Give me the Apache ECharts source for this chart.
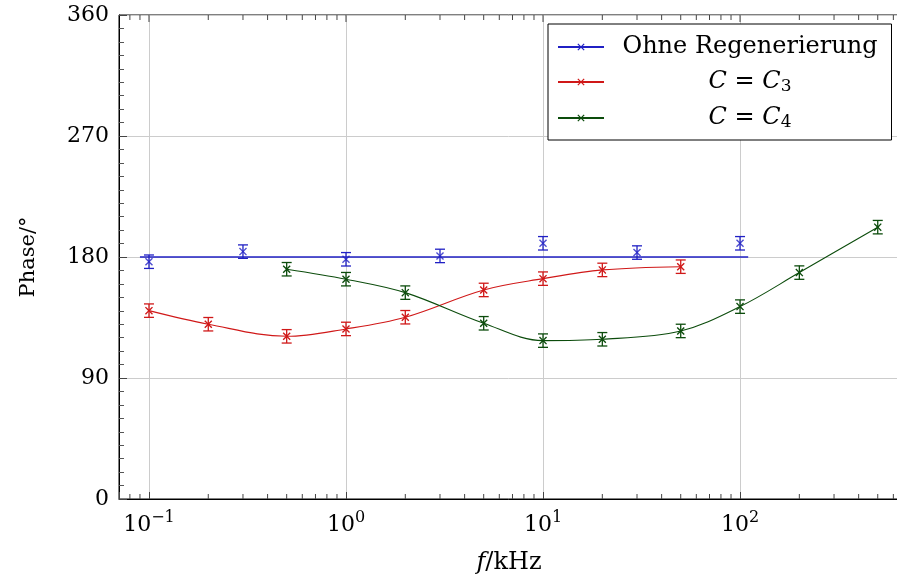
<!DOCTYPE html>
<html>
<head>
<meta charset="utf-8">
<script src="https://cdn.jsdelivr.net/npm/echarts@6/dist/echarts.min.js"></script>
<style>html,body{margin:0;padding:0;background:#fff}#c{width:897px;height:583px}</style>
</head>
<body>
<div id="c"></div>
<script>
// ---- data ----
const seriesNames = ['Ohne Regenerierung', 'C = C_3', 'C = C_4'];
const freqBlue = [0.1, 0.3, 1, 3, 10, 30, 100];
const phaseBlue = [176.5, 184, 178.3, 180.8, 190.2, 183.3, 190.2];
const errBlue = [5, 5, 5, 5, 5, 5, 5];
const fitBlueX = [0.09, 110];
const fitBlueY = [180, 180];
const freqC3 = [0.1, 0.2, 0.5, 1, 2, 5, 10, 20, 50];
const phaseC3 = [140.1, 130.0, 121.0, 126.5, 135.2, 155.5, 163.9, 170.4, 172.8];
const errC3 = [5, 5, 5, 5, 5, 5, 5, 5, 5];
const freqC4 = [0.5, 1, 2, 5, 10, 20, 50, 100, 200, 500];
const phaseC4 = [170.9, 163.5, 153.5, 130.7, 117.8, 118.8, 125.0, 143.1, 168.4, 202.2];
const errC4 = [5, 5, 5, 5, 5, 5, 5, 5, 5, 5];
const xMajorTicks = [0.1, 1, 10, 100];
const xMinorTicks = [0.08, 0.09, 0.2, 0.3, 0.4, 0.5, 0.6, 0.7, 0.8, 0.9, 2, 3, 4, 5, 6, 7, 8, 9,
  20, 30, 40, 50, 60, 70, 80, 90, 200, 300, 400, 500, 600];
const yTicks = [0, 90, 180, 270, 360];

// ---- styling ----
const FONT = 'DejaVu Serif';
const BLUE = '#2020c4', RED = '#d01818', GREEN = '#0c4c0c';
const XSYM = 'path://M0,1.2 L1.2,0 L5,3.8 L8.8,0 L10,1.2 L6.2,5 L10,8.8 L8.8,10 L5,6.2 L1.2,10 L0,8.8 L3.8,5 Z';

const zip = (a, b) => a.map((v, i) => [v, b[i]]);
const zip3 = (a, b, c) => a.map((v, i) => [v, b[i], c[i]]);

function errRender(color) {
  return function (params, api) {
    const x = api.value(0), y = api.value(1), e = api.value(2);
    const hi = api.coord([x, y + e]);
    const lo = api.coord([x, y - e]);
    const hw = 5;
    const st = { stroke: color, lineWidth: 1.3 };
    return {
      type: 'group', children: [
        { type: 'line', shape: { x1: hi[0], y1: hi[1], x2: lo[0], y2: lo[1] }, style: st },
        { type: 'line', shape: { x1: hi[0] - hw, y1: hi[1], x2: hi[0] + hw, y2: hi[1] }, style: st },
        { type: 'line', shape: { x1: lo[0] - hw, y1: lo[1], x2: lo[0] + hw, y2: lo[1] }, style: st }
      ]
    };
  };
}
function tickRender(len, bottomToo) {
  return function (params, api) {
    const v = api.value(0);
    const b = api.coord([v, yTicks[0]]);
    const t = api.coord([v, yTicks[yTicks.length - 1]]);
    const st = { stroke: '#444', lineWidth: 1 };
    const ch = [{ type: 'line', shape: { x1: t[0], y1: t[1], x2: t[0], y2: t[1] + len }, style: st }];
    if (bottomToo) ch.push({ type: 'line', shape: { x1: b[0], y1: b[1], x2: b[0], y2: b[1] - len }, style: st });
    return { type: 'group', children: ch };
  };
}

const chart = echarts.init(document.getElementById('c'), null, { renderer: 'canvas' });
const option = {
  animation: false,
  backgroundColor: '#fff',
  grid: { left: 119, top: 15, width: 780, height: 484, show: true, borderColor: '#000', borderWidth: 1,
    containLabel: false, outerBoundsMode: 'none' },
  legend: {
    orient: 'vertical', left: 548, top: 24,
    data: seriesNames,
    backgroundColor: '#fff', borderColor: '#000', borderWidth: 1, borderRadius: 0,
    padding: [11, 14, 9, 9],
    itemWidth: 46, itemHeight: 9, itemGap: 11,
    selectedMode: false,
    textStyle: {
      width: 282,
      rich: {
        t: { fontFamily: FONT, fontSize: 24, color: '#000', align: 'center', lineHeight: 26 },
        i: { fontFamily: FONT, fontSize: 24, fontStyle: 'italic', color: '#000', align: 'center', lineHeight: 26 },
        sub: { fontFamily: FONT, fontSize: 17, color: '#000', align: 'center', lineHeight: 12, verticalAlign: 'bottom' }
      }
    },
    formatter: function (name) {
      const m = name.match(/^C = C_(\d)$/);
      if (m) return '{i|C}{t| = }{i|C}{sub|' + m[1] + '}';
      return '{t|' + name + '}';
    }
  },
  xAxis: {
    type: 'log', logBase: 10, min: 0.07045, max: 641,
    name: '{i|f}{t|/kHz}', nameLocation: 'middle', nameGap: 52,
    nameTextStyle: {
      rich: {
        i: { fontFamily: FONT, fontSize: 24, fontStyle: 'italic', color: '#000' },
        t: { fontFamily: FONT, fontSize: 24, color: '#000' }
      }
    },
    axisLine: { show: true, lineStyle: { color: '#000', width: 1 } },
    axisTick: { show: true, inside: true, length: 7, lineStyle: { color: '#444' } },
    minorTick: { show: false },
    splitLine: { show: true, lineStyle: { color: '#cccccc', width: 1 } },
    axisLabel: {
      margin: 11,
      formatter: function (v) {
        const lv = Math.log10(v);
        const e = Math.round(lv);
        if (Math.abs(lv - e) > 1e-6) return '';
        const es = e < 0 ? '\u2212' + (-e) : String(e);
        return '{b|10}{s|' + es + '}';
      },
      rich: {
        b: { fontFamily: FONT, fontSize: 22, color: '#000', lineHeight: 26, verticalAlign: 'bottom' },
        s: { fontFamily: FONT, fontSize: 16, color: '#000', lineHeight: 16, verticalAlign: 'top' }
      }
    }
  },
  yAxis: {
    type: 'value', min: 0, max: 360, interval: 90,
    name: 'Phase/°', nameLocation: 'middle', nameGap: 80, nameRotate: 90,
    nameTextStyle: { fontFamily: FONT, fontSize: 21, color: '#000' },
    axisLine: { show: true, lineStyle: { color: '#000', width: 1 } },
    axisTick: { show: true, inside: true, length: 8, lineStyle: { color: '#444' } },
    minorTick: { show: true, splitNumber: 9, length: 5, lineStyle: { color: '#555' } },
    splitLine: { show: true, lineStyle: { color: '#cccccc', width: 1 } },
    axisLabel: { fontFamily: FONT, fontSize: 22, color: '#000', margin: 10 }
  },
  series: [
    {
      name: seriesNames[0], type: 'line', data: zip(fitBlueX, fitBlueY),
      showSymbol: false, symbol: XSYM, symbolSize: 8,
      lineStyle: { color: BLUE, width: 1.3 }, itemStyle: { color: BLUE }, z: 3
    },
    {
      name: 'blue-points', type: 'scatter', data: zip(freqBlue, phaseBlue),
      symbol: XSYM, symbolSize: 8, itemStyle: { color: BLUE }, z: 4
    },
    {
      name: seriesNames[1], type: 'line', data: zip(freqC3, phaseC3), smooth: 0.35,
      symbol: XSYM, symbolSize: 8, showSymbol: true,
      lineStyle: { color: RED, width: 1.1 }, itemStyle: { color: RED }, z: 3
    },
    {
      name: seriesNames[2], type: 'line', data: zip(freqC4, phaseC4), smooth: 0.35,
      symbol: XSYM, symbolSize: 8, showSymbol: true,
      lineStyle: { color: GREEN, width: 1.1 }, itemStyle: { color: GREEN }, z: 3
    },
    { name: 'err-blue', type: 'custom', data: zip3(freqBlue, phaseBlue, errBlue), renderItem: errRender(BLUE), encode: { x: 0, y: 1 }, z: 4, silent: true },
    { name: 'err-red', type: 'custom', data: zip3(freqC3, phaseC3, errC3), renderItem: errRender(RED), encode: { x: 0, y: 1 }, z: 4, silent: true },
    { name: 'err-green', type: 'custom', data: zip3(freqC4, phaseC4, errC4), renderItem: errRender(GREEN), encode: { x: 0, y: 1 }, z: 4, silent: true },
    { name: 'x-minor-ticks', type: 'custom', data: xMinorTicks.map(v => [v, yTicks[0]]), renderItem: tickRender(5, true), encode: { x: 0, y: 1 }, z: 5, silent: true, clip: false },
    { name: 'x-major-top-ticks', type: 'custom', data: xMajorTicks.map(v => [v, yTicks[0]]), renderItem: tickRender(7, false), encode: { x: 0, y: 1 }, z: 5, silent: true, clip: false }
  ]
};
chart.setOption(option);
</script>
</body>
</html>
